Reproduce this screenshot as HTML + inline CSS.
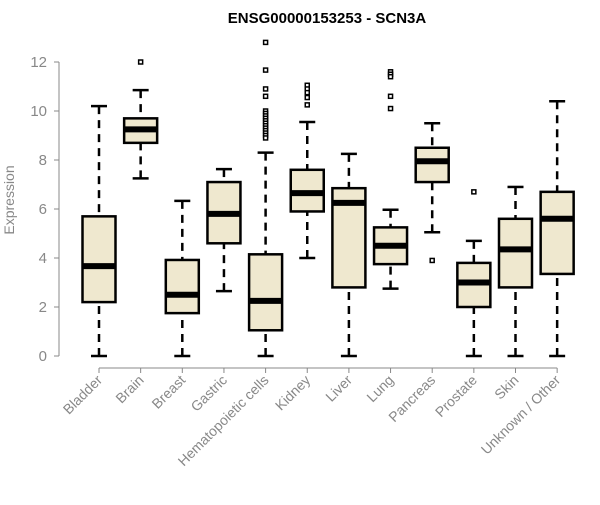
<!DOCTYPE html>
<html><head><meta charset="utf-8"><style>body{margin:0;background:#fff}svg{font-family:"Liberation Sans",Arial,sans-serif}</style></head>
<body>
<svg id="c" width="600" height="500">
<text x="327" y="23" text-anchor="middle" font-weight="bold" font-size="15">ENSG00000153253 - SCN3A</text>
<text transform="translate(14,200) rotate(-90)" text-anchor="middle" font-size="14" fill="#888">Expression</text>
<g id="g"></g>
</svg>
<script>
const categories=["Bladder","Brain","Breast","Gastric","Hematopoietic cells","Kidney","Liver","Lung","Pancreas","Prostate","Skin","Unknown / Other"];
const lows=[0,7.25,0,2.65,0,4.0,0,2.75,5.05,0,0,0];
const q1s=[2.2,8.7,1.75,4.6,1.05,5.9,2.8,3.75,7.1,2.0,2.8,3.35];
const medians=[3.67,9.25,2.5,5.8,2.25,6.65,6.25,4.5,7.95,3.0,4.35,5.6];
const q3s=[5.7,9.7,3.92,7.1,4.15,7.6,6.85,5.25,8.5,3.8,5.6,6.7];
const highs=[10.2,10.85,6.33,7.63,8.3,9.55,8.25,5.97,9.5,4.7,6.9,10.4];
const outliers=[[],[12],[],[],[12.8,11.67,10.9,10.6,10.0,9.9,9.8,9.7,9.6,9.5,9.4,9.3,9.2,9.1,9.0,8.9],[11.05,10.9,10.75,10.55,10.25],[],[11.6,11.5,11.4,10.6,10.1],[3.9],[6.7],[],[]];
const yTicks=[0,2,4,6,8,10,12];
const NS="http://www.w3.org/2000/svg",g=document.getElementById('g');
const y=v=>356-v*24.5, x=i=>99+i*41.65;
function mk(t,a,p){const e=document.createElementNS(NS,t);for(const k in a)e.setAttribute(k,a[k]);(p||g).appendChild(e);return e;}
let e=mk('line',{x1:59,x2:59,y1:y(12),y2:y(0),stroke:'#888'});


yTicks.forEach(t=>{mk('line',{x1:54,x2:59,y1:y(t),y2:y(t),stroke:'#888'});
 const tx=mk('text',{x:47,y:y(t)+5,'text-anchor':'end','font-size':15,fill:'#888'});tx.textContent=t;
 
 });
e=mk('line',{x1:x(0),x2:x(11),y1:368,y2:368,stroke:'#888'});


categories.forEach((c,i)=>{const cx=x(i),w=16.5;
 mk('line',{x1:cx,x2:cx,y1:368,y2:373,stroke:'#888'});
 const tx=mk('text',{transform:`translate(${cx+4},381) rotate(-45)`,'text-anchor':'end','font-size':14,fill:'#888'});tx.textContent=c;
 
 
 const bg=mk('g',{});
 
 
 mk('line',{x1:cx,x2:cx,y1:y(highs[i]),y2:y(q3s[i]),stroke:'#000','stroke-width':2.5,'stroke-dasharray':'8,6'},bg);
 mk('line',{x1:cx,x2:cx,y1:y(lows[i]),y2:y(q1s[i]),stroke:'#000','stroke-width':2.5,'stroke-dasharray':'8,6'},bg);
 mk('line',{x1:cx-8,x2:cx+8,y1:y(highs[i]),y2:y(highs[i]),stroke:'#000','stroke-width':2.5},bg);
 mk('line',{x1:cx-8,x2:cx+8,y1:y(lows[i]),y2:y(lows[i]),stroke:'#000','stroke-width':2.5},bg);
 mk('rect',{x:cx-w,y:y(q3s[i]),width:2*w,height:y(q1s[i])-y(q3s[i]),fill:'#efe8cf',stroke:'#000','stroke-width':2.5},bg);
 mk('line',{x1:cx-w,x2:cx+w,y1:y(medians[i]),y2:y(medians[i]),stroke:'#000','stroke-width':6},bg);
 outliers[i].forEach(o=>{mk('rect',{x:cx-2,y:y(o)-2,width:4,height:4,fill:'#fff',stroke:'#000','stroke-width':1.5},bg);});
});
</script>
</body></html>
